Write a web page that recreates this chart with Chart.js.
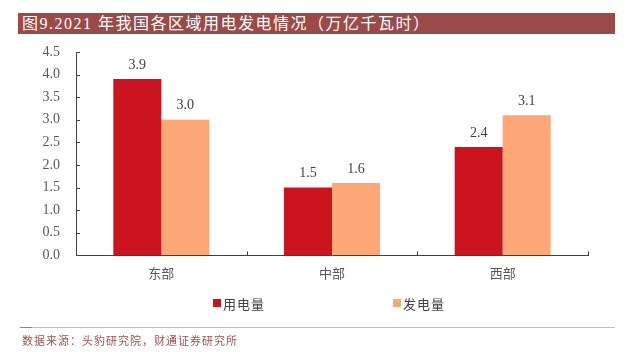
<!DOCTYPE html>
<html>
<head>
<meta charset="utf-8">
<script src="https://cdn.jsdelivr.net/npm/chart.js@4/dist/chart.umd.min.js"></script>
<style>
  html, body { margin: 0; padding: 0; background: #fff; }
  #wrap { position: relative; width: 625px; height: 352px; overflow: hidden; }
  #title {
    position: absolute; left: 18px; top: 13px; width: 597px; height: 21px;
    background: #9c4a47; color: #fff; box-sizing: border-box; padding-left: 4px;
    font: 16px "Liberation Serif", "Noto Sans CJK SC"; line-height: 21px; letter-spacing: 1.5px;
    white-space: nowrap;
  }
  #rule { position: absolute; left: 20px; top: 327px; width: 595px; height: 1px; background: #dcb5b3; }
  #rule i { position: absolute; left: 0; top: 0; width: 12px; height: 1px; background: #b8706c; }
  #source {
    position: absolute; left: 22px; top: 332px; color: #a0524f;
    font: 11px "Noto Sans CJK SC"; letter-spacing: 1px; white-space: nowrap;
  }
  #legend { position: absolute; top: 295px; left: 0; width: 625px; height: 16px; }
  .item { position: absolute; top: 0; display: flex; align-items: center; height: 16px;
    font: 13px "Noto Sans CJK SC"; color: #404040; letter-spacing: 1px; }
  .item b { display: inline-block; width: 8px; height: 8px; margin-right: 2px; }
  canvas { position: absolute; left: 0; top: 0; }
</style>
</head>
<body>
<div id="wrap">
  <canvas id="chart" width="625" height="352"></canvas>
  <div id="title">图9.2021 年我国各区域用电发电情况（万亿千瓦时）</div>
  <div id="legend"></div>
  <div id="rule"><i></i></div>
  <div id="source">数据来源：头豹研究院，财通证券研究所</div>
</div>
<script>
const regions = ['东部', '中部', '西部'];
const consumption = [3.9, 1.5, 2.4];   // 用电量
const generation = [3.0, 1.6, 3.1];    // 发电量
const seriesNames = ['用电量', '发电量'];
const seriesColors = ['#cb141e', '#fea776'];
const axisColor = '#404040';
const tickColor = '#595959';
const legendLeft = [213, 393];

// value labels over each bar
const valueLabels = {
    id: 'valueLabels',
    afterDatasetsDraw(chart) {
        const ctx = chart.ctx;
        ctx.save();
        ctx.font = '14px "Liberation Serif"';
        ctx.fillStyle = axisColor;
        ctx.textAlign = 'center';
        ctx.textBaseline = 'bottom';
        chart.data.datasets.forEach((ds, i) => {
            chart.getDatasetMeta(i).data.forEach((bar, j) => {
                ctx.fillText(ds.data[j].toFixed(1), bar.x, bar.y - 7);
            });
        });
        ctx.restore();
    }
};

// small tick marks pointing into the plot
const innerTicks = {
    id: 'innerTicks',
    afterDraw(chart) {
        const { ctx, chartArea, scales: { x, y } } = chart;
        ctx.save();
        ctx.strokeStyle = axisColor;
        ctx.lineWidth = 1;
        ctx.beginPath();
        y.ticks.forEach((t, i) => {
            const py = Math.round(y.getPixelForTick(i)) + 0.5;
            ctx.moveTo(chartArea.left, py);
            ctx.lineTo(chartArea.left + 4, py);
        });
        for (let i = 0; i <= regions.length; i++) {
            const px = Math.round(x.getPixelForValue(i - 0.5)) + 0.5;
            ctx.moveTo(px, chartArea.bottom);
            ctx.lineTo(px, chartArea.bottom - 4);
        }
        ctx.stroke();
        ctx.restore();
    }
};

const chart = new Chart(document.getElementById('chart'), {
    type: 'bar',
    data: {
        labels: regions,
        datasets: [{
            label: seriesNames[0],
            data: consumption,
            backgroundColor: seriesColors[0]
        }, {
            label: seriesNames[1],
            data: generation,
            backgroundColor: seriesColors[1]
        }]
    },
    options: {
        responsive: false,
        animation: false,
        categoryPercentage: 0.5625,
        barPercentage: 1,
        layout: { padding: { top: 52, right: 37, bottom: 61, left: 0 } },
        plugins: {
            legend: { display: false },
            tooltip: { enabled: false }
        },
        scales: {
            x: {
                grid: { drawOnChartArea: false, drawTicks: false },
                border: { color: axisColor },
                ticks: { color: tickColor, padding: 10, font: { family: 'Noto Sans CJK SC', size: 13 } }
            },
            y: {
                min: 0,
                max: 4.5,
                afterFit(scale) { scale.width = 76; },
                grid: { drawOnChartArea: false, drawTicks: false },
                border: { color: axisColor },
                ticks: {
                    stepSize: 0.5,
                    color: tickColor,
                    padding: 16,
                    font: { family: 'Liberation Serif', size: 14 },
                    callback: v => v.toFixed(1)
                }
            }
        }
    },
    plugins: [valueLabels, innerTicks]
});

// legend built from the chart's datasets
const legend = document.getElementById('legend');
chart.data.datasets.forEach((ds, i) => {
    const item = document.createElement('div');
    item.className = 'item';
    item.style.left = legendLeft[i] + 'px';
    item.innerHTML = '<b style="background:' + ds.backgroundColor + '"></b>' + ds.label;
    legend.appendChild(item);
});
</script>
</body>
</html>
